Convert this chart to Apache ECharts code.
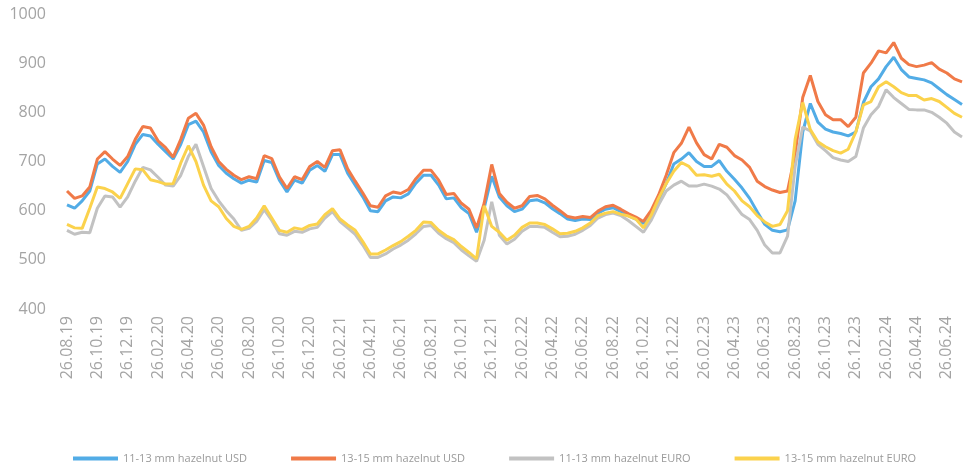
<!DOCTYPE html>
<html>
<head>
<meta charset="utf-8">
<title>hazelnut prices</title>
<script src="https://cdn.jsdelivr.net/npm/echarts@6/dist/echarts.min.js"></script>
<style>
  html, body { margin: 0; padding: 0; background: #fff; }
  #main { width: 966px; height: 468px; }
</style>
</head>
<body>
<div id="main"></div>
<script>
// semi-monthly readings, 26.08.19 .. 26.07.24
var usd1113 = [
  612, 605, 620, 640, 695, 705, 690, 678, 700, 735, 755, 752, 735, 720, 705, 735, 775, 782, 760, 720,
  692, 676, 665, 656, 662, 658, 702, 698, 662, 638, 662, 656, 682, 692, 680, 714, 714, 676, 652, 628,
  600, 598, 620, 628, 626, 634, 656, 672, 672, 652, 624, 626, 606, 594, 556, 605, 670, 628, 610, 598,
  603, 620, 622, 616, 604, 594, 583, 580, 583, 582, 595, 603, 606, 598, 590, 583, 574, 595, 622, 655,
  695, 705, 718, 700, 690, 690, 702, 680, 664, 646, 625, 598, 572, 560, 557, 561, 620, 760, 818, 780,
  766, 760, 757, 752, 760, 820, 852, 868, 893, 912, 887, 872, 869, 866, 860, 848, 836, 826, 816
];
var usd1315 = [
  640, 625, 630, 648, 705, 720, 705, 692, 710, 745, 771, 768, 742, 728, 709, 745, 788, 798, 774, 730,
  700, 684, 672, 663, 669, 665, 712, 706, 669, 645, 669, 663, 690, 700, 688, 722, 724, 685, 660, 636,
  610, 607, 630, 638, 635, 643, 665, 682, 682, 662, 633, 635, 615, 603, 565, 615, 694, 635, 617, 605,
  610, 629, 631, 624, 611, 600, 588, 585, 588, 586, 599, 608, 611, 603, 594, 587, 578, 600, 632, 672,
  718, 737, 770, 738, 714, 705, 735, 729, 712, 703, 688, 660, 649, 642, 637, 640, 715, 830, 875, 822,
  795, 785, 785, 771, 790, 880, 900, 925, 921, 942, 910, 897, 893, 896, 901, 888, 880, 868, 862
];
var eur1113 = [
  560, 552, 556, 555, 605, 630, 628, 607, 628, 660, 688, 683, 668, 652, 650, 672, 710, 735, 690, 645,
  620, 600, 583, 560, 564, 578, 602, 580, 553, 550, 558, 556, 563, 566, 585, 598, 578, 565, 552, 530,
  505, 505, 512, 522, 530, 540, 553, 568, 570, 554, 543, 535, 520, 508, 497, 540, 618, 550, 532, 542,
  558, 568, 568, 566, 556, 547, 548, 552, 560, 570, 585, 592, 595, 590, 580, 568, 556, 580, 612, 640,
  652, 660, 650, 650, 654, 650, 644, 632, 612, 592, 582, 560, 530, 514, 514, 548, 690, 770, 762, 735,
  722, 708, 703, 700, 710, 768, 795, 812, 846, 830, 818, 806, 805, 805, 800, 790, 778, 760, 750
];
var eur1315 = [
  572, 565, 564, 605, 648, 645, 638, 625, 655, 685, 683, 663, 659, 654, 655, 697, 732, 700, 652, 620,
  608, 584, 568, 562, 568, 585, 610, 585, 560, 556, 565, 562, 570, 573, 592, 604, 583, 571, 560, 537,
  512, 512, 520, 529, 537, 548, 560, 577, 576, 560, 549, 541, 527, 515, 502, 610, 568, 556, 540, 550,
  566, 575, 575, 572, 563, 553, 554, 558, 565, 575, 590, 595, 598, 593, 589, 583, 565, 590, 625, 655,
  680, 698, 690, 672, 673, 670, 674, 654, 640, 620, 608, 590, 577, 568, 572, 600, 745, 820, 765, 740,
  730, 722, 717, 725, 760, 815, 822, 852, 862, 852, 840, 834, 834, 825, 828, 822, 810, 798, 790
];
var seriesNames = ['11-13 mm hazelnut USD', '13-15 mm hazelnut USD', '11-13 mm hazelnut EURO', '13-15 mm hazelnut EURO'];
var colors = ['#52ace6', '#f07a48', '#c2c2c2', '#fbd24c'];

// dates on the 11th and 26th of each month
var dates = ['26.08.19'];
for (var k = 1; k < 60; k++) {
  var m = (7 + k) % 12 + 1;
  var y = 19 + Math.floor((7 + k) / 12);
  var mm = (m < 10 ? '0' : '') + m;
  dates.push('11.' + mm + '.' + y, '26.' + mm + '.' + y);
}

var values = [usd1113, usd1315, eur1113, eur1315];
var series = [];
for (var s = 0; s < values.length; s++) {
  series.push({
    name: seriesNames[s],
    type: 'line',
    data: values[s],
    symbol: 'none',
    animation: false,
    lineStyle: { width: 3, color: colors[s] },
    itemStyle: { color: colors[s] }
  });
}

var myChart = echarts.init(document.getElementById('main'));
var option = {
  backgroundColor: '#fff',
  textStyle: { fontFamily: 'Open Sans' },
  grid: { left: 67, right: 4, top: 14, bottom: 159 },
  legend: {
    left: 68,
    bottom: 0,
    padding: [5, 5, 4, 5],
    itemWidth: 45,
    itemHeight: 4,
    itemGap: 44,
    icon: 'rect',
    textStyle: { color: '#9a9a9a', fontSize: 11 },
    data: seriesNames
  },
  xAxis: {
    type: 'category',
    data: dates,
    boundaryGap: false,
    axisLine: { show: false },
    axisTick: { show: false },
    axisLabel: { interval: 3, rotate: 90, margin: 7, color: '#a4a4a4', fontSize: 16 }
  },
  yAxis: {
    type: 'value',
    min: 400,
    max: 1000,
    interval: 100,
    axisLine: { show: false },
    axisTick: { show: false },
    splitLine: { show: false },
    axisLabel: {
      margin: 21,
      color: '#a4a4a4',
      fontSize: 16,
      formatter: function (v) { return String(v); }
    }
  },
  series: series
};
myChart.setOption(option);
</script>
</body>
</html>
